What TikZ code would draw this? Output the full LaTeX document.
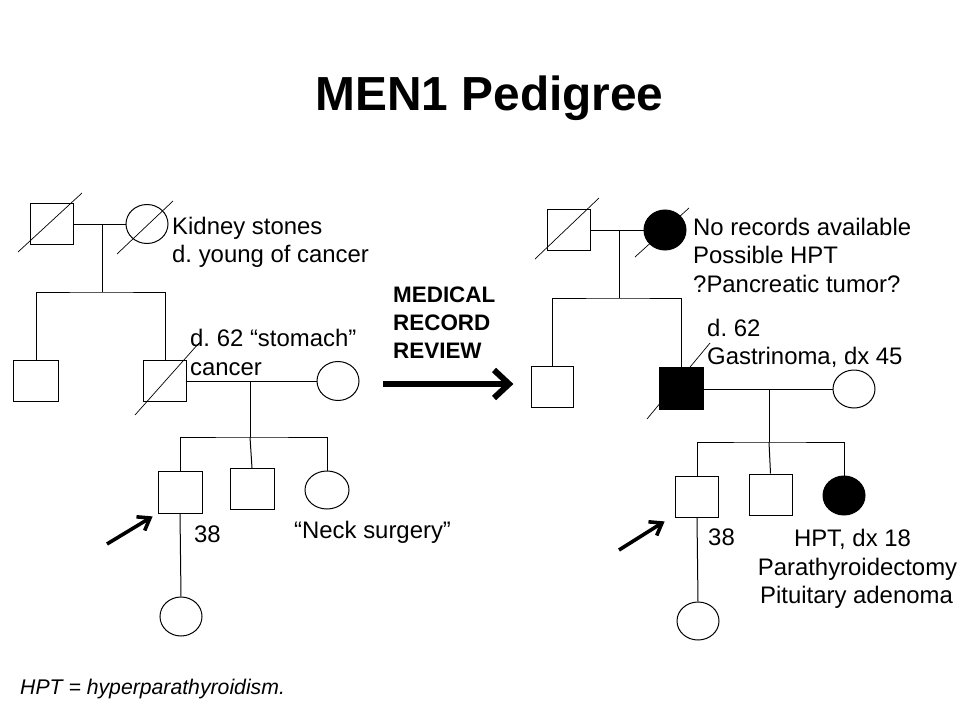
\documentclass[tikz,border=0pt]{standalone}
\usepackage{fontspec}
\setmainfont{Liberation Sans}
\usetikzlibrary{shapes.geometric}
\frenchspacing
\begin{document}
\begin{tikzpicture}[x=1bp,y=-1bp,
  sq/.style={draw,rectangle,minimum width=43bp,minimum height=41bp,inner sep=0pt,line width=1bp},
  circ/.style={draw,ellipse,minimum width=42bp,minimum height=39bp,inner sep=0pt,line width=1bp},
  aff/.style={fill=black},
  ln/.style={line width=1bp},
  diag/.style={line width=0.7bp},
  txt/.style={font=\fontsize{24}{28}\selectfont,inner sep=0pt,anchor=base west},
  ctxt/.style={font=\fontsize{24}{28}\selectfont,inner sep=0pt,anchor=base},
  btxt/.style={font=\fontsize{22.5}{27}\selectfont\bfseries,inner sep=0pt,anchor=base west},
  pline/.style={line width=3.6bp},
  bline/.style={line width=6bp}
]
\useasboundingbox (0,0) rectangle (960,720);

% title
\node[font=\fontsize{48}{56}\selectfont\bfseries,inner sep=0pt,anchor=base] (title) at (489.5,111) {MEN1 Pedigree};

%%%%%%%% LEFT PEDIGREE
\node[sq] (GF1) at (52,224) {};
\node[circ] (GM1) at (147,224) {};
\draw[diag] ([shift={(-34,28)}]GF1.center) -- ([shift={(30,-31)}]GF1.center);
\draw[diag] ([shift={(-30,30)}]GM1.center) -- ([shift={(26,-23)}]GM1.center);
\coordinate (m1) at (102,224);
\coordinate (s1) at (102,292);
\draw[ln] (GF1.east) -- (GM1.west);
\draw[ln] (m1) -- (s1);

\node[sq,minimum width=44bp] (C11) at (36,381) {};
\node[sq] (F1) at (165,381) {};
\draw[diag] ([shift={(-30,34)}]F1.center) -- ([shift={(34,-38)}]F1.center);
\node[circ] (S1) at (338,381) {};
\draw[ln] (C11.north) |- (s1) -| (F1.north);

\coordinate (m2) at (250,381);
\coordinate (s2) at (250,437);
\draw[ln] (F1.east) -- (S1.west);
\draw[ln] (m2) -- (s2);

\node[sq,minimum width=44bp,minimum height=42bp] (P1) at (180,492) {};
\node[sq,minimum width=44bp] (K12) at (252,489) {};
\node[circ,minimum width=44bp,minimum height=38bp] (D1) at (327,490) {};
\draw[ln] (P1.north) |- (s2) -| (D1.north);
\draw[ln] (s2) -- (K12.north);

\node[circ,minimum width=42bp,minimum height=39bp] (GD1) at (181,616.5) {};
\draw[ln] (P1.south) -- (GD1.north);

\coordinate (pa1s) at (107,544);
\coordinate (pa1e) at (150,518);
\draw[pline] (pa1s) -- (pa1e);
\begin{scope}[shift={(pa1e)},rotate=31]
  \draw[pline,line join=miter] (-11,-8) -- (0,0) -- (-11,8);
\end{scope}

\node[txt] (t1a) at (172,234) {Kidney stones};
\node[txt] (t1b) at (172,262) {d. young of cancer};
\node[txt] (t2a) at (190,346) {d. 62 “stomach”};
\node[txt] (t2b) at (190,375) {cancer};
\node[txt] (t3) at (194,542) {38};
\node[txt] (t4) at (294,538) {“Neck surgery”};

%%%%%%%% MIDDLE
\node[btxt] (mr1) at (393,302) {MEDICAL};
\node[btxt] (mr2) at (393,330) {RECORD};
\node[btxt] (mr3) at (393,358) {REVIEW};
\coordinate (ba1) at (383,384);
\coordinate (ba2) at (509,384);
\draw[bline] (ba1) -- ([xshift=-2bp]ba2);
\draw[bline,line join=miter] ([shift={(-15,-14)}]ba2) -- (ba2) -- ([shift={(-15,14)}]ba2);

%%%%%%%% RIGHT PEDIGREE
\node[sq] (GF2) at (568.5,230) {};
\node[circ,aff,minimum height=40bp] (GM2) at (665,230) {};
\draw[diag] ([shift={(-33.5,29)}]GF2.center) -- ([shift={(30.5,-32)}]GF2.center);
\draw[diag] ([shift={(-30,27)}]GM2.center) -- ([shift={(24,-22)}]GM2.center);
\coordinate (m3) at (619,230);
\coordinate (s3) at (619,298);
\draw[ln] (GF2.east) -- (GM2.west);
\draw[ln] (m3) -- (s3);

\node[sq,minimum width=42bp] (C21) at (552,387) {};
\node[sq,aff,minimum width=44bp,minimum height=42bp] (F2) at (681,388) {};
\draw[diag] ([shift={(-34,31)}]F2.center) -- ([shift={(29,-45)}]F2.center);
\node[circ,minimum height=38bp] (S2) at (854,389) {};
\draw[ln] (C21.north) |- (s3) -| (F2.north);

\coordinate (m4) at (769,389);
\coordinate (s4) at (769,442);
\draw[ln] (F2.east |- m4) -- (S2.west);
\draw[ln] (m4) -- (s4);

\node[sq] (P2) at (697,496.5) {};
\node[sq] (K22) at (770.5,494.5) {};
\node[circ,aff] (D2) at (844,495.5) {};
\draw[ln] (P2.north) |- (s4) -| (D2.north);
\draw[ln] (s4) -- (K22.north);

\node[circ,minimum height=38bp] (GD2) at (698,621) {};
\draw[ln] (P2.south) -- (GD2.north);

\coordinate (pa2s) at (619,550);
\coordinate (pa2e) at (662,523);
\draw[pline] (pa2s) -- (pa2e);
\begin{scope}[shift={(pa2e)},rotate=31]
  \draw[pline,line join=miter] (-11,-8) -- (0,0) -- (-11,8);
\end{scope}

\node[txt] (r1a) at (693,235) {No records available};
\node[txt] (r1b) at (693,263) {Possible HPT};
\node[txt] (r1c) at (693,292) {?Pancreatic tumor?};
\node[txt] (r2a) at (707,336) {d. 62};
\node[txt] (r2b) at (707,364) {Gastrinoma, dx 45};
\node[txt] (r3) at (708,545) {38};
\node[ctxt] (r4a) at (852.5,546) {HPT, dx 18};
\node[ctxt] (r4b) at (857.5,575) {Parathyroidectomy};
\node[ctxt] (r4c) at (856.5,603) {Pituitary adenoma};

% footnote
\node[font=\fontsize{21.3}{25}\selectfont\itshape,inner sep=0pt,anchor=base west] (fn) at (20,694) {HPT = hyperparathyroidism.};
\end{tikzpicture}
\end{document}
